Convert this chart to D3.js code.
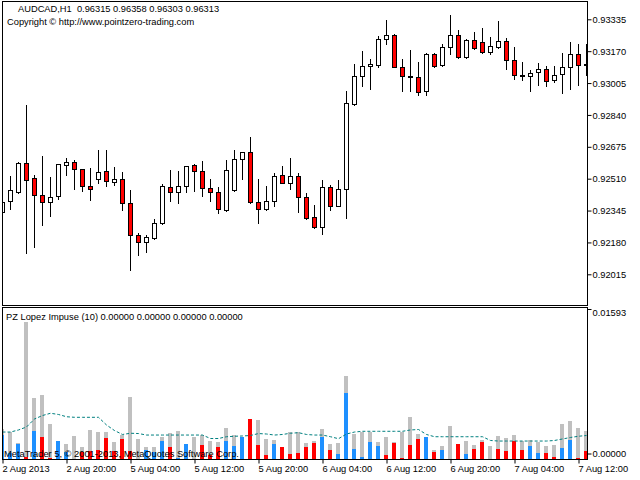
<!DOCTYPE html>
<html>
<head>
<meta charset="utf-8">
<script src="https://cdn.jsdelivr.net/npm/d3@7/dist/d3.min.js"></script>
<style>
    body { margin: 0; background: #fff; }
    svg text { font-family: "Liberation Sans", Arial, sans-serif; font-size: 9.3px; fill: #000; }
</style>
</head>
<body>
<div id="chart"></div>
<script>
// AUDCAD H1, 74 bars
const open = [0.92335, 0.92392, 0.92442, 0.92589, 0.92512, 0.92423, 0.92387, 0.92418, 0.92579, 0.92595,
    0.92558, 0.92470, 0.92507, 0.92548, 0.92491, 0.92507, 0.92382, 0.92216, 0.92180, 0.92201,
    0.92278, 0.92465, 0.92439, 0.92470, 0.92579, 0.92548, 0.92460, 0.92439, 0.92346, 0.92449,
    0.92610, 0.92646, 0.92387, 0.92351, 0.92392, 0.92527, 0.92490, 0.92522, 0.92413, 0.92311,
    0.92261, 0.92465, 0.92371, 0.92454, 0.92895, 0.93040, 0.93092, 0.93097, 0.93231, 0.93252,
    0.93089, 0.93040, 0.93035, 0.92962, 0.93157, 0.93097, 0.93190, 0.93252, 0.93138, 0.93226,
    0.93216, 0.93164, 0.93190, 0.93221, 0.93124, 0.93045, 0.93040, 0.93060, 0.93076, 0.93019,
    0.93050, 0.93089, 0.93154, 0.93102];
const high = [0.92392, 0.92523, 0.92596, 0.92891, 0.92528, 0.92627, 0.92518, 0.92587, 0.92615, 0.92605,
    0.92560, 0.92565, 0.92656, 0.92657, 0.92568, 0.92546, 0.92449, 0.92230, 0.92216, 0.92299,
    0.92485, 0.92554, 0.92551, 0.92576, 0.92584, 0.92602, 0.92507, 0.92465, 0.92606, 0.92658,
    0.92648, 0.92727, 0.92507, 0.92470, 0.92538, 0.92574, 0.92615, 0.92538, 0.92435, 0.92376,
    0.92501, 0.92475, 0.92501, 0.92965, 0.93102, 0.93170, 0.93129, 0.93247, 0.93330, 0.93257,
    0.93128, 0.93174, 0.93113, 0.93159, 0.93163, 0.93206, 0.93357, 0.93278, 0.93231, 0.93268,
    0.93288, 0.93242, 0.93324, 0.93236, 0.93190, 0.93113, 0.93071, 0.93107, 0.93092, 0.93092,
    0.93159, 0.93216, 0.93206, 0.93206];
const low = [0.92333, 0.92351, 0.92437, 0.92126, 0.92157, 0.92271, 0.92318, 0.92403, 0.92530, 0.92457,
    0.92447, 0.92401, 0.92490, 0.92473, 0.92475, 0.92349, 0.92038, 0.92116, 0.92131, 0.92196,
    0.92275, 0.92396, 0.92382, 0.92439, 0.92447, 0.92421, 0.92396, 0.92332, 0.92341, 0.92447,
    0.92509, 0.92382, 0.92278, 0.92346, 0.92371, 0.92488, 0.92454, 0.92335, 0.92299, 0.92256,
    0.92225, 0.92346, 0.92369, 0.92309, 0.92893, 0.92991, 0.92975, 0.93090, 0.93206, 0.93087,
    0.92962, 0.92962, 0.92941, 0.92941, 0.93087, 0.93092, 0.93154, 0.93136, 0.93133, 0.93183,
    0.93159, 0.93154, 0.93185, 0.93076, 0.93024, 0.93019, 0.92962, 0.92997, 0.92991, 0.93009,
    0.92952, 0.92976, 0.92997, 0.93045];
const close = [0.92391, 0.92449, 0.92591, 0.92501, 0.92423, 0.92387, 0.92413, 0.92586, 0.92595, 0.92558,
    0.92470, 0.92454, 0.92546, 0.92496, 0.92507, 0.92382, 0.92216, 0.92180, 0.92206, 0.92278,
    0.92470, 0.92439, 0.92470, 0.92574, 0.92548, 0.92460, 0.92439, 0.92351, 0.92553, 0.92610,
    0.92646, 0.92387, 0.92351, 0.92392, 0.92522, 0.92490, 0.92522, 0.92413, 0.92309, 0.92260,
    0.92465, 0.92371, 0.92454, 0.92900, 0.93040, 0.93092, 0.93102, 0.93231, 0.93252, 0.93089,
    0.93040, 0.93035, 0.92957, 0.93157, 0.93092, 0.93190, 0.93252, 0.93138, 0.93226, 0.93185,
    0.93164, 0.93195, 0.93221, 0.93124, 0.93045, 0.93040, 0.93055, 0.93076, 0.93014, 0.93045,
    0.93089, 0.93155, 0.93097, 0.93097];

// PZ Lopez Impuse (10): total range (grey), directional part (blue/red), signal (dotted)
const impTotal = [0.00314, 0.00282, 0.00165, 0.01455, 0.00645, 0.00677, 0.00368, 0.00186, 0.00155, 0.00240,
    0.00123, 0.00304, 0.00282, 0.00282, 0.00179, 0.00250, 0.00655, 0.00208, 0.00123, 0.00123,
    0.00229, 0.00272, 0.00293, 0.00155, 0.00229, 0.00250, 0.00186, 0.00176, 0.00325, 0.00250,
    0.00229, 0.00421, 0.00410, 0.00208, 0.00197, 0.00123, 0.00282, 0.00282, 0.00165, 0.00186,
    0.00314, 0.00155, 0.00165, 0.00879, 0.00261, 0.00282, 0.00282, 0.00176, 0.00229, 0.00176,
    0.00282, 0.00442, 0.00261, 0.00229, 0.00091, 0.00133, 0.00346, 0.00155, 0.00186, 0.00144,
    0.00197, 0.00133, 0.00240, 0.00218, 0.00250, 0.00186, 0.00197, 0.00176, 0.00133, 0.00144,
    0.00368, 0.00400, 0.00325, 0.00293];
const impPart = [0.00250, 0.00055, 0.00151, 0.00019, 0.00296, 0.00229, 0.00009, 0.00186, 0.00072, 0,
    0.00072, 0.00080, 0.00091, 0.00222, 0.00080, 0.00208, 0.00080, 0, 0.00091, 0.00072,
    0.00186, 0.00123, 0.00009, 0.00155, 0, 0.00144, 0.00037, 0.00126, 0.00186, 0.00133,
    0.00229, 0.00421, 0.00144, 0.00037, 0.00155, 0.00123, 0.00048, 0.00059, 0.00123, 0.00165,
    0.00229, 0.00091, 0.00048, 0.00698, 0.00101, 0.00016, 0.00176, 0.00133, 0.00037, 0.00165,
    0.00005, 0.00144, 0.00208, 0.00229, 0.00069, 0.00091, 0, 0.00155, 0.00048, 0.00101,
    0.00176, 0, 0.00101, 0.00080, 0.00186, 0.00091, 0.00133, 0.00059, 0.00059, 0.00016,
    0.00112, 0.00197, 0.00005, 0.00080];
const impDir = ['b','b','b','r','b','r','r','b','b','b',
    'r','r','r','r','r','r','r','r','b','b',
    'b','r','b','b','b','r','r','r','b','b',
    'b','r','r','r','b','r','r','r','r','r',
    'b','r','b','b','b','b','b','b','r','r',
    'r','r','r','b','r','b','r','r','b','r',
    'r','r','r','r','r','r','b','b','r','r',
    'b','b','r','r'];
const impSignal = [0.00282, 0.00282, 0.00304, 0.00336, 0.00421, 0.00458, 0.00482, 0.00469, 0.00445, 0.00439,
    0.00439, 0.00439, 0.00439, 0.00357, 0.00298, 0.00256, 0.00269, 0.00266, 0.00250, 0.00250,
    0.00250, 0.00250, 0.00250, 0.00250, 0.00250, 0.00250, 0.00213, 0.00213, 0.00232, 0.00237,
    0.00240, 0.00245, 0.00266, 0.00261, 0.00250, 0.00256, 0.00269, 0.00275, 0.00256, 0.00250,
    0.00250, 0.00232, 0.00211, 0.00261, 0.00282, 0.00290, 0.00290, 0.00290, 0.00290, 0.00290,
    0.00290, 0.00304, 0.00309, 0.00256, 0.00232, 0.00232, 0.00232, 0.00232, 0.00232, 0.00232,
    0.00232, 0.00192, 0.00186, 0.00186, 0.00186, 0.00186, 0.00186, 0.00186, 0.00186, 0.00192,
    0.00208, 0.00224, 0.00237, 0.00245];

const priceTicks = [0.93335, 0.93170, 0.93005, 0.92840, 0.92675, 0.92510, 0.92345, 0.92180, 0.92015];
const impTicks = [0.01593, 0];
const timeTickBars = [0, 8, 16, 24, 32, 40, 48, 56, 64, 72];
const timeLabels = ['2 Aug 2013', '2 Aug 20:00', '5 Aug 04:00', '5 Aug 12:00', '5 Aug 20:00',
    '6 Aug 04:00', '6 Aug 12:00', '6 Aug 20:00', '7 Aug 04:00', '7 Aug 12:00'];

const width = 640, height = 480;
const frameLeft = 2.5, frameRight = 587.5;

const bars = open.map((o, i) => ({ i: i, o: o, h: high[i], l: low[i], c: close[i] }));

const svg = d3.select('#chart').append('svg')
    .attr('width', width)
    .attr('height', height);

const x = d3.scaleLinear().domain([0, open.length - 1]).range([2.5, 586.5]);
const y = d3.scaleLinear().domain([0.92015, 0.93335]).range([274.3, 19.3]);
const yImp = d3.scaleLinear().domain([0, 0.01593]).range([458.5, 309]);

const snap = v => Math.round(v) + 0.5;

svg.append('defs').append('clipPath').attr('id', 'clip-main')
    .append('rect').attr('x', 3).attr('y', 2).attr('width', 584).attr('height', 303);
svg.select('defs').append('clipPath').attr('id', 'clip-imp')
    .append('rect').attr('x', 3).attr('y', 308).attr('width', 584).attr('height', 151);

// ---- main window: candles
const candles = svg.append('g').attr('clip-path', 'url(#clip-main)');

candles.selectAll('.wick')
    .data(bars).enter()
    .append('line')
    .attr('class', 'wick')
    .attr('x1', d => x(d.i))
    .attr('x2', d => x(d.i))
    .attr('y1', d => Math.round(y(d.h)))
    .attr('y2', d => Math.round(y(d.l)) + 1)
    .attr('stroke', '#000')
    .attr('stroke-width', 1);

candles.selectAll('.body')
    .data(bars).enter()
    .append('rect')
    .attr('class', 'body')
    .attr('x', d => x(d.i) - 2)
    .attr('width', 4)
    .attr('y', d => snap(y(Math.max(d.o, d.c))))
    .attr('height', d => Math.max(1, snap(y(Math.min(d.o, d.c))) - snap(y(Math.max(d.o, d.c)))))
    .attr('fill', d => d.c < d.o ? '#ff0000' : '#ffffff')
    .attr('stroke', '#000')
    .attr('stroke-width', 1);

// ---- indicator window
const imp = svg.append('g').attr('clip-path', 'url(#clip-imp)').attr('shape-rendering', 'crispEdges');

imp.selectAll('.total')
    .data(impTotal).enter()
    .append('rect')
    .attr('class', 'total')
    .attr('x', (d, i) => x(i) - 2.5)
    .attr('width', 4)
    .attr('y', d => yImp(d))
    .attr('height', d => yImp(0) - yImp(d))
    .attr('fill', '#c0c0c0');

imp.selectAll('.part')
    .data(impPart).enter()
    .append('rect')
    .attr('class', 'part')
    .attr('x', (d, i) => x(i) - 2.5)
    .attr('width', 4)
    .attr('y', d => yImp(d))
    .attr('height', d => yImp(0) - yImp(d))
    .attr('fill', (d, i) => impDir[i] === 'b' ? '#1e90ff' : '#ff0000');

svg.append('path')
    .attr('clip-path', 'url(#clip-imp)')
    .datum(impSignal)
    .attr('d', d3.line().x((d, i) => x(i)).y(d => yImp(d)))
    .attr('fill', 'none')
    .attr('stroke', '#008080')
    .attr('stroke-width', 1)
    .attr('stroke-dasharray', '3,2');

// ---- frames
svg.append('rect')
    .attr('x', frameLeft).attr('y', 1.5)
    .attr('width', frameRight - frameLeft).attr('height', 304)
    .attr('fill', 'none').attr('stroke', '#000');
svg.append('rect')
    .attr('x', frameLeft).attr('y', 307.5)
    .attr('width', frameRight - frameLeft).attr('height', 152)
    .attr('fill', 'none').attr('stroke', '#000');

// ---- axes
const priceAxis = svg.append('g')
    .attr('transform', `translate(${frameRight}, 0)`)
    .call(d3.axisRight(y).tickValues(priceTicks).tickSize(4).tickPadding(1).tickFormat(d3.format('.5f')));
priceAxis.select('.domain').remove();
priceAxis.selectAll('text').attr('dy', '0.34em').style('font-family', null).style('font-size', null);
priceAxis.attr('font-family', null).attr('font-size', null);

const impAxis = svg.append('g')
    .attr('transform', `translate(${frameRight}, 0)`)
    .call(d3.axisRight(yImp).tickValues(impTicks).tickSize(4).tickPadding(1).tickFormat(d3.format('.5f')));
impAxis.select('.domain').remove();
impAxis.attr('font-family', null).attr('font-size', null);
// MetaTrader keeps the edge labels inside the window
impAxis.selectAll('.tick').each(function(d) {
    const t = d3.select(this);
    if (d === 0) {
        t.attr('transform', `translate(0, ${yImp(0) - 4.5})`);
        t.select('text').attr('dy', '0.34em');
    } else {
        t.select('text').attr('dy', '0.73em');
    }
});

const timeAxis = svg.append('g')
    .attr('transform', 'translate(0, 459.5)')
    .call(d3.axisBottom(x).tickValues(timeTickBars).tickSize(4).tickFormat((d, i) => timeLabels[i]));
timeAxis.select('.domain').remove();
timeAxis.attr('font-family', null).attr('font-size', null);
timeAxis.selectAll('text')
    .attr('text-anchor', 'start')
    .attr('x', -0.5)
    .attr('y', 12.2)
    .attr('dy', 0);

// ---- captions
svg.append('text').attr('x', 18).attr('y', 12.3)
    .text('AUDCAD,H1  0.96315 0.96358 0.96303 0.96313').attr('xml:space', 'preserve');
svg.append('text').attr('x', 7).attr('y', 24.5)
    .text('Copyright \u00a9 http://www.pointzero-trading.com');
svg.append('text').attr('x', 6).attr('y', 320)
    .text('PZ Lopez Impuse (10) 0.00000 0.00000 0.00000 0.00000');
svg.append('text').attr('x', 4).attr('y', 456.7)
    .text('MetaTrader 5, \u00a9 2001-2013, MetaQuotes Software Corp.');
</script>
</body>
</html>
